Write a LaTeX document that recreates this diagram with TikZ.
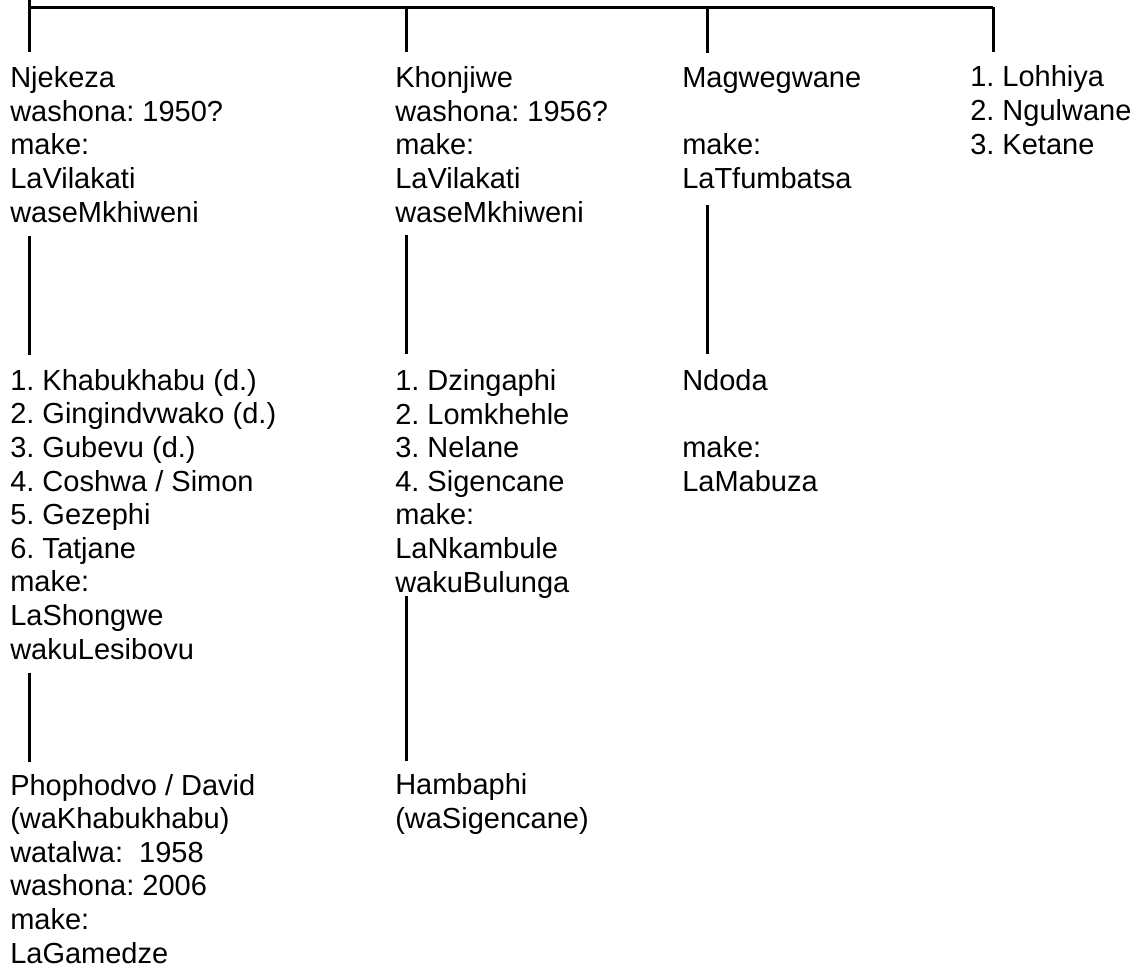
\documentclass[tikz,border=0pt]{standalone}
\usepackage{fontspec}
\setmainfont{Liberation Sans}
\frenchspacing
\tikzset{
  person/.style={anchor=base west,inner sep=0pt,align=left,
    font=\fontsize{21.75pt}{25.2pt}\selectfont},
  link/.style={draw=black,line width=2.25pt},
}

\begin{document}
\begin{tikzpicture}[x=0.75pt,y=-0.75pt]
\useasboundingbox (0,0) rectangle (1139,967);
% first row (placed at the baseline of the last line)
\node[person] (Njekeza) at (10,222) {Njekeza\\washona: 1950?\\make:\\LaVilakati\\waseMkhiweni};
\node[person] (Khonjiwe) at (395,222) {Khonjiwe\\washona: 1956?\\make:\\LaVilakati\\waseMkhiweni};
\node[person] (Magwegwane) at (682,188) {Magwegwane\\ \\make:\\LaTfumbatsa};
\node[person] (Sisters) at (970,154) {1. Lohhiya\\2. Ngulwane\\3. Ketane};
% second row
\node[person] (NjekezaKids) at (10,659) {1. Khabukhabu (d.)\\2. Gingindvwako (d.)\\3. Gubevu (d.)\\4. Coshwa / Simon\\5. Gezephi\\6. Tatjane\\make:\\LaShongwe\\wakuLesibovu};
\node[person] (KhonjiweKids) at (395,592) {1. Dzingaphi\\2. Lomkhehle\\3. Nelane\\4. Sigencane\\make:\\LaNkambule\\wakuBulunga};
\node[person] (Ndoda) at (682,491) {Ndoda\\ \\make:\\LaMabuza};
% third row
\node[person] (Phophodvo) at (10,963) {Phophodvo / David\\(waKhabukhabu)\\watalwa:\ \ 1958\\washona: 2006\\make:\\LaGamedze};
\node[person] (Hambaphi) at (395,828) {Hambaphi\\(waSigencane)};
% top bar and drops
\coordinate (c1) at (29,7);
\coordinate (c2) at (406,7);
\coordinate (c3) at (707,7);
\coordinate (c4) at (993,7);
\draw[link] (c1) -- (c4);
\draw[link] (c1) -- ++(0,-7);
\foreach \c/\n in {c1/Njekeza,c2/Khonjiwe,c3/Magwegwane,c4/Sisters}
  \draw[link,shorten >=10.5pt] (\c) -- (\c |- \n.north);
% descent lines
\foreach \c/\a/\b/\s/\e in {c1/Njekeza/NjekezaKids/9.75/10.5,
    c2/Khonjiwe/KhonjiweKids/9/11.25,c3/Magwegwane/Ndoda/12/11.25,
    c1/NjekezaKids/Phophodvo/9.75/9,c2/KhonjiweKids/Hambaphi/-1.5/9}
  \draw[link,shorten <=\s pt,shorten >=\e pt] (\c |- \a.south) -- (\c |- \b.north);
\end{tikzpicture}
\end{document}
